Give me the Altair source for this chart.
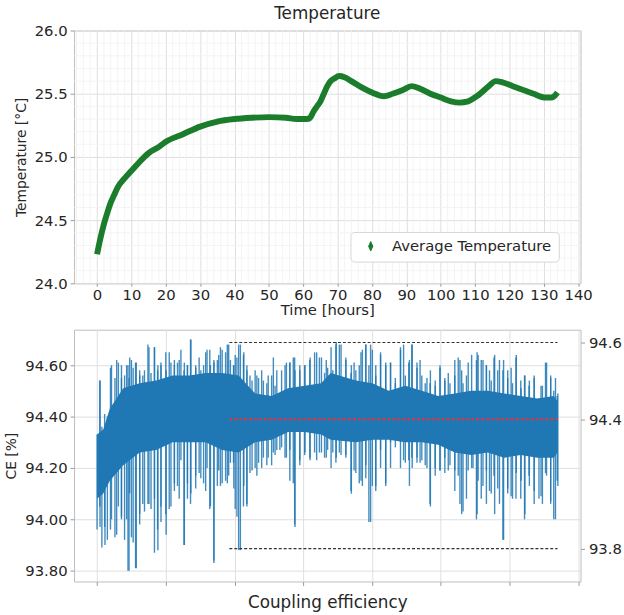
import altair as alt
import pandas as pd

# ---------------- data: temperature (top panel) ----------------
temp_t = [0, 1, 2, 3, 4, 5, 6, 8, 10, 12, 15, 18, 20, 25, 30, 35, 40, 45, 50, 55, 58, 61,
          62, 63, 64, 65, 66, 67, 68, 69, 70.5, 72, 74, 77, 80, 83.5, 86, 89, 91.5, 94, 97,
          100, 103, 105.5, 108, 111, 114, 116, 118, 121, 124, 127, 130.5, 132, 133, 134]
temp_v = [24.23, 24.36, 24.47, 24.56, 24.64, 24.70, 24.76, 24.83, 24.89, 24.95, 25.03, 25.08,
          25.12, 25.18, 25.24, 25.28, 25.30, 25.31, 25.315, 25.31, 25.30, 25.30,
          25.31, 25.36, 25.40, 25.44, 25.50, 25.56, 25.60, 25.62, 25.64, 25.63, 25.60, 25.55,
          25.51, 25.48, 25.50, 25.53, 25.56, 25.54, 25.50, 25.47, 25.44, 25.43, 25.44, 25.49,
          25.56, 25.60, 25.59, 25.56, 25.53, 25.50, 25.47, 25.47, 25.48, 25.51]
temp_series = "Average Temperature"

# ---------------- data: coupling efficiency (bottom panel) ----------------
# dense core of the scatter cloud
core_t = [0, 1.8, 3.7, 7.6, 12.4, 17.2, 22, 26.8, 31.6, 36.4, 41.2, 46, 50.8, 55.6, 60.4,
          65.2, 68, 75.3, 80.1, 84.9, 89.7, 94.5, 99.3, 104.1, 108.9, 113.7, 118.5, 123.3,
          128.1, 132.9, 134]
core_hi = [94.33, 94.35, 94.43, 94.51, 94.53, 94.54, 94.56, 94.56, 94.57, 94.57, 94.56, 94.49,
           94.48, 94.51, 94.52, 94.53, 94.57, 94.54, 94.53, 94.50, 94.52, 94.50, 94.48, 94.49,
           94.50, 94.50, 94.49, 94.48, 94.47, 94.48, 94.46]
core_lo = [94.08, 94.10, 94.15, 94.21, 94.26, 94.27, 94.30, 94.30, 94.30, 94.27, 94.26, 94.30,
           94.31, 94.34, 94.34, 94.33, 94.31, 94.30, 94.31, 94.31, 94.30, 94.30, 94.29, 94.26,
           94.25, 94.26, 94.24, 94.25, 94.24, 94.24, 94.26]

# vertical streaks of scattered points (first reading)
spike_t = [0, 0.8, 1.4, 2.2, 3.0, 3.9, 5.2, 6.2, 7.1, 8.0, 9.0, 9.5, 10.5, 11.4, 12.4, 13.3,
           14.8, 15.7, 16.7, 17.6, 18.6, 20.0, 21.5, 22.5, 23.4, 24.4, 25.3, 26.3, 27.2, 28.7,
           29.7, 31.0, 32.0, 33.0, 34.0, 35.4, 36.4, 37.9, 38.8, 39.7, 40.2, 41.2, 42.6, 43.6,
           44.5, 46.0, 47.0, 48.4, 49.8, 51.3, 52.3, 53.7, 55.1, 56.1, 57.1, 57.6, 59.0, 60.5,
           62.0, 63.9, 65.3, 67.1, 68.6, 69.6, 70.5, 72.4, 74.0, 74.8, 76.3, 77.2, 78.2, 79.1,
           80.1, 81.1, 82.5, 84.0, 85.4, 86.8, 88.3, 89.2, 90.7, 91.7, 93.1, 94.5, 96.0, 97.0,
           98.4, 99.8, 101.2, 102.2, 104.1, 105.1, 106.1, 107.5, 109.0, 110.4, 110.9, 112.3,
           113.3, 114.7, 115.7, 117.1, 118.1, 119.5, 120.5, 122.0, 123.4, 124.4, 125.8, 127.2,
           129.2, 130.5, 132.0, 133.4, 134.1]
spike_hi = [94.33, 94.54, 94.36, 94.41, 94.40, 94.59, 94.55, 94.61, 94.55, 94.56, 94.60, 94.63,
            94.59, 94.61, 94.58, 94.56, 94.68, 94.57, 94.67, 94.58, 94.60, 94.65, 94.61, 94.62,
            94.61, 94.66, 94.58, 94.60, 94.70, 94.59, 94.63, 94.60, 94.66, 94.60, 94.62, 94.64,
            94.66, 94.68, 94.62, 94.60, 94.64, 94.68, 94.64, 94.58, 94.56, 94.58, 94.55, 94.54,
            94.56, 94.63, 94.58, 94.58, 94.61, 94.61, 94.63, 94.58, 94.60, 94.60, 94.63, 94.65,
            94.63, 94.59, 94.58, 94.69, 94.68, 94.63, 94.60, 94.61, 94.60, 94.66, 94.68, 94.60,
            94.66, 94.60, 94.64, 94.60, 94.61, 94.55, 94.66, 94.68, 94.61, 94.68, 94.59, 94.56,
            94.55, 94.58, 94.54, 94.59, 94.55, 94.57, 94.56, 94.63, 94.58, 94.56, 94.64, 94.62,
            94.64, 94.62, 94.60, 94.54, 94.64, 94.62, 94.58, 94.55, 94.59, 94.64, 94.51, 94.56,
            94.54, 94.55, 94.52, 94.61, 94.55, 94.55, 94.49]
spike_lo = [93.96, 94.05, 93.89, 93.97, 93.92, 93.96, 93.93, 94.05, 94.01, 93.92, 93.80, 94.10,
            93.91, 93.81, 94.02, 94.06, 94.06, 94.04, 93.87, 93.96, 94.05, 94.02, 94.05, 94.14,
            94.13, 94.23, 93.90, 94.14, 94.06, 94.17, 94.18, 94.14, 94.20, 94.05, 93.83, 94.19,
            94.14, 94.14, 94.22, 94.22, 94.04, 93.88, 94.05, 94.05, 94.18, 94.20, 94.22, 94.24,
            94.24, 94.26, 94.27, 94.28, 94.24, 94.27, 94.14, 93.97, 94.23, 94.26, 94.23, 94.23,
            94.26, 94.27, 94.26, 94.24, 94.26, 94.24, 94.10, 94.19, 94.14, 94.13, 94.16, 93.99,
            94.13, 94.11, 94.20, 94.14, 94.20, 94.28, 94.20, 94.23, 94.23, 94.20, 94.22, 94.23,
            94.20, 94.05, 94.20, 94.19, 94.18, 94.19, 94.11, 94.17, 94.02, 94.08, 94.20, 94.00,
            94.15, 94.13, 94.06, 94.10, 94.02, 94.06, 93.92, 94.10, 94.09, 94.18, 94.15, 94.00,
            94.13, 94.06, 94.09, 94.18, 94.06, 94.00, 94.13]

# vertical streaks of scattered points (second, finer reading)
streak_t = [0.86, 2.3, 4.2, 5.7, 7.1, 8.6, 9.3, 10.0, 11.2, 12.4, 13.8, 15.1, 16.7, 17.7, 18.6,
            20.1, 21.0, 22.5, 23.9, 25.4, 26.3, 27.3, 28.7, 30.2, 31.6, 32.8, 34.0, 35.0, 35.9,
            37.4, 38.3, 39.8, 40.7, 41.7, 42.7, 43.6, 45.1, 46.5, 47.9, 49.4, 50.8, 51.8, 53.2,
            54.7, 56.1, 57.5, 59.0, 60.4, 61.9, 63.3, 64.7, 66.2, 66.7, 68.1, 69.5, 71.0, 72.4,
            73.9, 75.3, 76.8, 78.2, 79.6, 81.1, 82.5, 84.0, 85.4, 86.8, 88.3, 89.7, 90.9, 91.6,
            93.1, 94.0, 95.5, 96.9, 98.4, 99.8, 101.2, 102.7, 104.1, 105.6, 106.5, 108.0, 109.4,
            110.6, 111.8, 113.3, 114.2, 115.5, 116.6, 118.3, 119.5, 120.9, 121.9, 123.3, 124.5,
            125.7, 127.2, 128.6, 129.6, 130.8, 132.0, 132.9, 133.9]
streak_hi = [94.54, 94.35, 94.60, 94.62, 94.60, 94.60, 94.55, 94.62, 94.61, 94.56, 94.58, 94.67,
             94.67, 94.60, 94.61, 94.58, 94.65, 94.60, 94.62, 94.61, 94.60, 94.70, 94.60, 94.58,
             94.65, 94.66, 94.61, 94.62, 94.67, 94.65, 94.68, 94.60, 94.63, 94.68, 94.65, 94.60,
             94.54, 94.56, 94.58, 94.53, 94.56, 94.52, 94.49, 94.60, 94.61, 94.63, 94.58, 94.60,
             94.62, 94.65, 94.63, 94.57, 94.62, 94.67, 94.68, 94.68, 94.62, 94.57, 94.58, 94.65,
             94.68, 94.68, 94.56, 94.65, 94.61, 94.61, 94.53, 94.67, 94.56, 94.62, 94.68, 94.61,
             94.62, 94.53, 94.53, 94.52, 94.60, 94.54, 94.53, 94.62, 94.62, 94.53, 94.61, 94.49,
             94.65, 94.62, 94.60, 94.58, 94.63, 94.58, 94.62, 94.58, 94.53, 94.63, 94.54, 94.56,
             94.52, 94.56, 94.47, 94.52, 94.61, 94.56, 94.50, 94.48]
streak_lo = [93.97, 93.90, 94.00, 93.94, 94.00, 94.00, 93.80, 93.93, 93.81, 93.98, 94.03, 94.06,
             94.08, 93.88, 93.99, 93.94, 94.04, 94.11, 94.08, 93.90, 94.08, 94.10, 94.12, 94.16,
             94.11, 94.04, 93.84, 94.13, 94.13, 94.15, 94.17, 94.12, 94.01, 93.88, 94.13, 94.06,
             94.19, 94.17, 94.20, 94.21, 94.21, 94.25, 94.27, 94.24, 94.15, 93.98, 94.21, 94.25,
             94.24, 94.26, 94.26, 94.24, 94.24, 94.20, 94.22, 94.25, 94.25, 94.11, 94.18, 94.15,
             94.21, 93.99, 94.13, 94.27, 94.13, 94.30, 94.31, 94.30, 94.22, 94.13, 94.24, 94.24,
             94.22, 94.21, 94.06, 94.17, 94.19, 94.24, 94.21, 94.19, 94.06, 94.03, 94.19, 94.20,
             94.02, 94.08, 94.19, 94.11, 94.17, 94.12, 93.92, 94.12, 94.08, 94.08, 94.08, 94.02,
             94.17, 94.11, 94.08, 94.06, 94.17, 94.07, 94.00, 94.15]

ref_levels = [94.688, 94.389, 93.886]
ref_colors = ["#333333", "#ff2a2a", "#333333"]
ref_widths = [1.1, 1.8, 1.1]
ref_start = 38.5
ref_end = 134
right_tick_values = [94.688, 94.389, 93.886]
right_tick_labels = ["94.6", "94.4", "93.8"]

# ---------------- grid positions ----------------
top_major_x = [0, 10, 20, 30, 40, 50, 60, 70, 80, 90, 100, 110, 120, 130, 140]
top_minor_x = [-6, -4, -2, 2, 4, 6, 8, 12, 14, 16, 18, 22, 24, 26, 28, 32, 34, 36, 38, 42, 44,
               46, 48, 52, 54, 56, 58, 62, 64, 66, 68, 72, 74, 76, 78, 82, 84, 86, 88, 92, 94,
               96, 98, 102, 104, 106, 108, 112, 114, 116, 118, 122, 124, 126, 128, 132, 134,
               136, 138]
top_major_y = [24.0, 24.5, 25.0, 25.5, 26.0]
top_minor_y = [24.1, 24.2, 24.3, 24.4, 24.6, 24.7, 24.8, 24.9, 25.1, 25.2, 25.3, 25.4,
               25.6, 25.7, 25.8, 25.9]
bot_x_ticks = [0, 20, 40, 60, 80, 100, 120, 140]
bot_y_ticks = [93.8, 94.0, 94.2, 94.4, 94.6]

FONT = "DejaVu Sans"
TXT = "#262626"
GREEN = "#1b7d2c"
BLUE = "#1f77b4"

xs = alt.Scale(domain=[-6.7, 140.7], nice=False, zero=False)
ys_top = alt.Scale(domain=[24.0, 26.0], nice=False, zero=False)
ys_bot = alt.Scale(domain=[93.758, 94.738], nice=False, zero=False)

W, H1, H2 = 513, 256, 255

# ---------------- top panel ----------------
x_axis_top = alt.Axis(values=top_major_x, title="Time [hours]", grid=True,
                      gridColor="#dedede", tickColor="#999999", tickSize=3,
                      labelFontSize=15, titleFontSize=15, labelPadding=1,
                      titlePadding=1, labelFlush=False)
y_axis_top = alt.Axis(values=top_major_y, format=".1f", title="Temperature [°C]",
                      grid=True, gridColor="#dedede", tickColor="#999999", tickSize=4,
                      labelFontSize=15, titleFontSize=14, labelPadding=3,
                      titlePadding=6)

minor_x_df = pd.DataFrame({"x": top_minor_x})
minor_y_df = pd.DataFrame({"y": top_minor_y})
temp_df = pd.DataFrame({"t": temp_t, "v": temp_v, "series": temp_series})

minor_x_rules = alt.Chart(minor_x_df).mark_rule(color="#f1f1f1", strokeWidth=0.8).encode(
    x=alt.X("x:Q", scale=xs, axis=x_axis_top))
minor_y_rules = alt.Chart(minor_y_df).mark_rule(color="#f1f1f1", strokeWidth=0.8).encode(
    y=alt.Y("y:Q", scale=ys_top, axis=y_axis_top))

temp_line = alt.Chart(temp_df).mark_line(strokeWidth=6, interpolate="monotone").encode(
    x=alt.X("t:Q", scale=xs, axis=x_axis_top),
    y=alt.Y("v:Q", scale=ys_top, axis=y_axis_top),
    color=alt.Color("series:N", scale=alt.Scale(range=[GREEN]),
                    legend=alt.Legend(title=None, orient="none", legendX=280, legendY=204,
                                      symbolType="M0,-1L0.45,0L0,1L-0.45,0Z",
                                      symbolFillColor=GREEN, symbolStrokeColor=GREEN,
                                      symbolStrokeWidth=1, symbolSize=90,
                                      labelFontSize=15, labelFont=FONT, labelColor=TXT,
                                      labelLimit=0,
                                      fillColor="white", strokeColor="#d6d6d6",
                                      cornerRadius=4, padding=7, labelOffset=14,
                                      symbolOffset=6)),
)

top = alt.layer(minor_x_rules, minor_y_rules, temp_line).properties(
    width=W, height=H1,
    title=alt.TitleParams("Temperature", fontSize=17, font=FONT, color=TXT,
                          fontWeight="normal", offset=1))

# ---------------- bottom panel ----------------
core_df = pd.DataFrame({"t": core_t, "hi": core_hi, "lo": core_lo})
spike_df = pd.DataFrame({"t": spike_t + streak_t, "hi": spike_hi + streak_hi,
                         "lo": spike_lo + streak_lo})
ref_df = pd.DataFrame({"level": ref_levels, "c": ref_colors, "w": ref_widths,
                       "s": [ref_start] * 3, "e": [ref_end] * 3})

label_expr = " : ".join(
    f"abs(datum.value - {v}) < 0.01 ? '{l}'" for v, l in zip(right_tick_values, right_tick_labels)
) + " : ''"

spikes = alt.Chart(spike_df).mark_rule(color=BLUE, strokeWidth=1.4, opacity=0.85).encode(
    x=alt.X("t:Q", scale=xs,
            axis=alt.Axis(values=bot_x_ticks, labels=False, grid=True, gridColor="#dedede",
                          tickColor="#999999", tickSize=4, title="Coupling efficiency",
                          titleFontSize=17, titlePadding=9)),
    y=alt.Y("lo:Q", scale=ys_bot,
            axis=alt.Axis(values=bot_y_ticks, format=".2f", title="CE [%]", grid=True,
                          gridColor="#dedede", tickColor="#999999", tickSize=4,
                          labelFontSize=15, titleFontSize=14, labelPadding=3,
                          titlePadding=6)),
    y2="hi:Q",
)

core = alt.Chart(core_df).mark_area(color=BLUE, opacity=1, interpolate="linear").encode(
    x=alt.X("t:Q", scale=xs),
    y=alt.Y("lo:Q", scale=ys_bot, axis=None),
    y2="hi:Q",
)

refs = alt.Chart(ref_df).mark_rule(strokeDash=[3, 2], opacity=1).encode(
    x=alt.X("s:Q", scale=xs),
    x2="e:Q",
    y=alt.Y("level:Q", scale=ys_bot,
            axis=alt.Axis(orient="right", values=right_tick_values, labelExpr=label_expr,
                          title=None, grid=False, tickColor="#999999", tickSize=4,
                          labelFontSize=15, labelPadding=4)),
    color=alt.Color("c:N", scale=None),
    strokeWidth=alt.StrokeWidth("w:Q", scale=None),
)

bottom = alt.layer(spikes, core, refs).resolve_scale(y="independent").properties(
    width=W, height=H2)

chart = alt.vconcat(top, bottom, spacing=10).properties(
    padding={"left": 4, "top": 0, "right": 2, "bottom": 0}
).configure(font=FONT).configure_axis(
    domain=False, labelFont=FONT, titleFont=FONT, labelColor=TXT, titleColor=TXT,
    titleFontWeight="normal"
).configure_view(stroke="#bdbdbd", strokeWidth=1)

chart.save("out.html", embed_options={"renderer": "svg", "actions": False})
